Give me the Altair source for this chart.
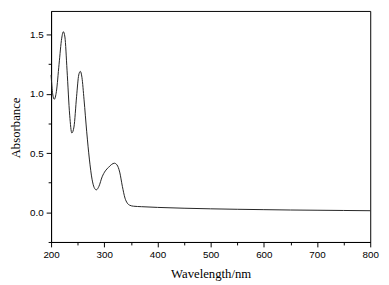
import altair as alt
import pandas as pd

wavelength = [200, 203, 206, 210, 215, 220, 223, 226, 230, 235, 239, 243, 248, 252, 255,
              258, 262, 267, 272, 277, 281, 285, 290, 296, 302, 308, 314, 319, 324, 329,
              334, 339, 343, 348, 355, 370, 400, 450, 500, 550, 600, 650, 700, 750, 800]
absorbance = [1.16, 1.00, 0.955, 1.02, 1.25, 1.47, 1.525, 1.48, 1.20, 0.82, 0.67, 0.72, 0.98, 1.16, 1.19,
              1.14, 0.95, 0.68, 0.45, 0.28, 0.21, 0.19, 0.22, 0.30, 0.35, 0.38, 0.405, 0.415, 0.40, 0.34,
              0.22, 0.12, 0.08, 0.06, 0.052, 0.048, 0.042, 0.035, 0.030, 0.026, 0.023, 0.020, 0.018, 0.016, 0.014]

x_ticks = list(range(200, 801, 50))
y_ticks = [-0.25, 0.0, 0.25, 0.5, 0.75, 1.0, 1.25, 1.5]

df = pd.DataFrame({"wl": wavelength, "abs": absorbance})

label_font = "Liberation Sans"
title_font = "Liberation Serif"

chart = alt.Chart(df).mark_line(color="#222222", strokeWidth=1, interpolate="monotone").encode(
    x=alt.X("wl:Q", scale=alt.Scale(domain=[200, 800], nice=False, zero=False),
            axis=alt.Axis(values=x_ticks, title="Wavelength/nm",
                          labelExpr="datum.value % 100 === 0 ? datum.label : ''",
                          tickSize={"condition": {"test": "datum.value % 100 !== 0", "value": 3}, "value": 5},
                          grid=False, labelFont=label_font, labelFontSize=10, labelColor="#000",
                          labelFlush=False, labelOverlap=False,
                          labelPadding=3, tickColor="#000", domainColor="#000",
                          titleFont=title_font, titleFontSize=13, titleFontWeight="normal", titleColor="#000",
                          titleX=163, titleY=32, titleBaseline="middle", titleAnchor="middle")),
    y=alt.Y("abs:Q", scale=alt.Scale(domain=[-0.25, 1.70], nice=False, zero=False),
            axis=alt.Axis(values=y_ticks, title="Absorbance", format=".1f",
                          labelExpr="datum.value % 0.5 === 0 ? datum.label : ''",
                          tickSize={"condition": {"test": "datum.value % 0.5 !== 0", "value": 3}, "value": 5},
                          grid=False, labelFont=label_font, labelFontSize=10, labelColor="#000",
                          labelFlush=False, labelOverlap=False,
                          labelPadding=3, tickColor="#000", domainColor="#000",
                          titleFont=title_font, titleFontSize=13, titleFontWeight="normal", titleColor="#000",
                          titleAngle=-90, titleX=-36, titleY=119, titleBaseline="middle", titleAlign="center")),
).properties(
    width=326, height=236,
    autosize=alt.AutoSizeParams(type="none"),
    padding={"left": 44, "top": 0, "right": 11, "bottom": 45},
).configure_view(stroke="#000", strokeWidth=1)

chart.save("out.html", embed_options={"renderer": "svg", "actions": False})
